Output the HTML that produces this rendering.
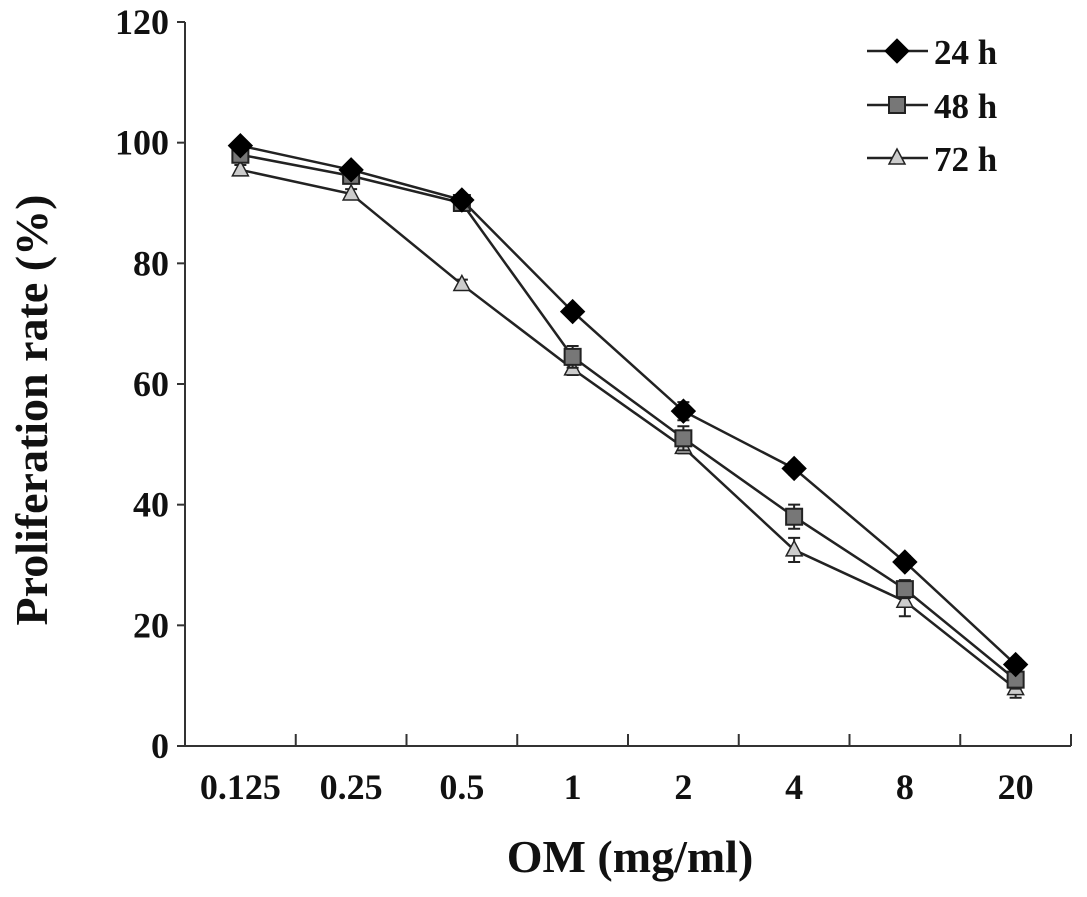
<!DOCTYPE html>
<html><head><meta charset="utf-8"><style>
body{margin:0;background:#fff}
svg text{font-family:"Liberation Serif",serif;fill:#111;font-weight:bold}
</style></head><body>
<svg id="chart" width="1087" height="892" xmlns="http://www.w3.org/2000/svg">
<g id="axes"></g><g id="series"></g><g id="legend"></g>
</svg>
<script>
const categories=["0.125","0.25","0.5","1","2","4","8","20"];
const yTicks=[0,20,40,60,80,100,120];
const s24=[99.5,95.5,90.5,72,55.5,46,30.5,13.5];
const s48=[98,94.5,90,64.5,51,38,26,11];
const s72=[95.5,91.5,76.5,62.5,49.5,32.5,24,9.5];
const e24=[0.8,0.8,0.8,0.8,1.5,1,1,1];
const e48=[0.8,0.8,0.8,1.8,2,2,1.5,1.5];
const e72=[0.8,0.8,0.8,1,1,2,2.5,1.5];
const NS="http://www.w3.org/2000/svg";
const X0=185,X1=1071,Y0=746,Y1=22;
const band=(X1-X0)/categories.length;
function xs(i){return X0+band*(i+0.5);}
function ys(v){return Y0-(v/120)*(Y0-Y1);}
function mk(tag,attrs,parent,text){const e=document.createElementNS(NS,tag);for(const k in attrs)e.setAttribute(k,attrs[k]);if(text!==undefined)e.textContent=text;parent.appendChild(e);return e;}
const axes=document.getElementById('axes');
let a=mk('line',{x1:X0,y1:Y1,x2:X0,y2:Y0,stroke:'#333','stroke-width':2},axes);

a=mk('line',{x1:X0,y1:Y0,x2:X1,y2:Y0,stroke:'#333','stroke-width':2},axes);

yTicks.forEach(v=>{
 const t=mk('line',{x1:X0-8,y1:ys(v),x2:X0,y2:ys(v),stroke:'#333','stroke-width':2},axes);
 
 const l=mk('text',{x:X0-16,y:ys(v)+12,'text-anchor':'end','font-size':36},axes,String(v));
 
});
for(let i=0;i<=categories.length;i++){
 const t=mk('line',{x1:X0+band*i,y1:Y0,x2:X0+band*i,y2:Y0-12,stroke:'#333','stroke-width':2},axes);
 
}
categories.forEach((c,i)=>{
 const l=mk('text',{x:xs(i),y:799,'text-anchor':'middle','font-size':36},axes,c);
 
});
let tt=mk('text',{x:630,y:872,'text-anchor':'middle','font-size':46},axes,'OM (mg/ml)');

tt=mk('text',{x:0,y:0,'text-anchor':'middle','font-size':46,transform:'translate(47,410) rotate(-90)'},axes,'Proliferation rate (%)');


function marker(type,x,y,g){
 let m;
 if(type==='d') m=mk('polygon',{points:`${x},${y-12} ${x+12},${y} ${x},${y+12} ${x-12},${y}`,fill:'#000',stroke:'#000'},g);
 else if(type==='s') m=mk('rect',{x:x-8,y:y-8,width:16,height:16,fill:'#777',stroke:'#222','stroke-width':2},g);
 else m=mk('polygon',{points:`${x},${y-9} ${x+8},${y+6} ${x-8},${y+6}`,fill:'#ccc',stroke:'#222','stroke-width':1.5},g);
 return m;
}
const ser=document.getElementById('series');
[[s72,e72,'t','series-72h'],[s48,e48,'s','series-48h'],[s24,e24,'d','series-24h']].forEach(([vals,errs,type,name])=>{
 const g=mk('g',{},ser);
 
 const pl=mk('polyline',{points:vals.map((v,i)=>xs(i)+','+ys(v)).join(' '),fill:'none',stroke:'#222','stroke-width':2.5},g);
 
 vals.forEach((v,i)=>{
  const x=xs(i),yt=ys(v+errs[i]),yb=ys(v-errs[i]);
  const eb=mk('path',{d:`M${x},${yt}V${yb}M${x-6},${yt}H${x+6}M${x-6},${yb}H${x+6}`,stroke:'#222','stroke-width':2,fill:'none'},g);
  
  const m=marker(type,x,ys(v),g);
  
 });
});
const leg=document.getElementById('legend');
[['d','24 h',51],['s','48 h',105],['t','72 h',158]].forEach(([type,lab,y])=>{
 const g=mk('g',{},leg);
 
 mk('line',{x1:867,y1:y,x2:928,y2:y,stroke:'#222','stroke-width':2.5},g);
 marker(type,897,y,g);
 mk('text',{x:934,y:y+13,'font-size':35},g,lab);
});
</script>
</body></html>
